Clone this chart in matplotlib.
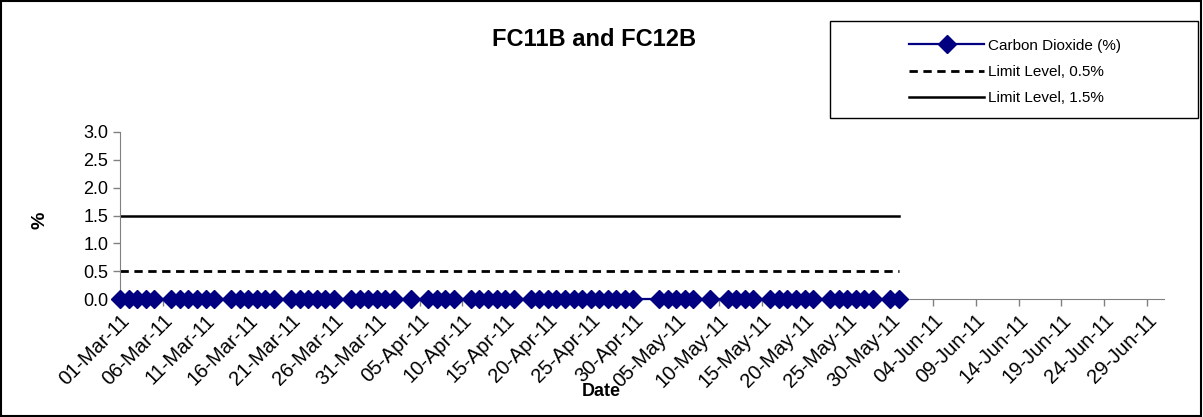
import pandas as pd
import matplotlib
matplotlib.use("Agg")
import matplotlib.pyplot as plt
import matplotlib.dates as mdates
from matplotlib.patches import Rectangle

plt.rcParams['font.family'] = ['Liberation Sans', 'DejaVu Sans']

# sample dates (days with a reading)
co2_dates = [
    '2011-03-01', '2011-03-02', '2011-03-03', '2011-03-04', '2011-03-05',
    '2011-03-07', '2011-03-08', '2011-03-09', '2011-03-10', '2011-03-11', '2011-03-12',
    '2011-03-14', '2011-03-15', '2011-03-16', '2011-03-17', '2011-03-18', '2011-03-19',
    '2011-03-21', '2011-03-22', '2011-03-23', '2011-03-24', '2011-03-25', '2011-03-26',
    '2011-03-28', '2011-03-29', '2011-03-30', '2011-03-31', '2011-04-01', '2011-04-02',
    '2011-04-04',
    '2011-04-06', '2011-04-07', '2011-04-08', '2011-04-09',
    '2011-04-11', '2011-04-12', '2011-04-13', '2011-04-14', '2011-04-15', '2011-04-16',
    '2011-04-18', '2011-04-19', '2011-04-20', '2011-04-21', '2011-04-22', '2011-04-23',
    '2011-04-24', '2011-04-25', '2011-04-26', '2011-04-27', '2011-04-28', '2011-04-29',
    '2011-04-30',
    '2011-05-03', '2011-05-04', '2011-05-05', '2011-05-06', '2011-05-07',
    '2011-05-09',
    '2011-05-11', '2011-05-12', '2011-05-13', '2011-05-14',
    '2011-05-16', '2011-05-17', '2011-05-18', '2011-05-19', '2011-05-20', '2011-05-21',
    '2011-05-23', '2011-05-24', '2011-05-25', '2011-05-26', '2011-05-27', '2011-05-28',
    '2011-05-30', '2011-05-31',
]
co2_values = [0.0] * len(co2_dates)

limit_dates = ['2011-03-01', '2011-05-31']
limit_low = [0.5, 0.5]
limit_high = [1.5, 1.5]

tick_start = '2011-03-01'
tick_end = '2011-06-29'
y_ticks = [0.0, 0.5, 1.0, 1.5, 2.0, 2.5, 3.0]

co2_dates = pd.to_datetime(co2_dates)
limit_dates = pd.to_datetime(limit_dates)
tick_dates = pd.date_range(tick_start, tick_end, freq='5D')

fig = plt.figure(figsize=(12.03, 4.17), dpi=100)
ax = fig.add_axes([120 / 1203, 118 / 417, 1044 / 1203, 167 / 417])

ax.plot(limit_dates, limit_low, color='black', linestyle=(0, (3, 2)), linewidth=2,
        label='Limit Level, 0.5%', zorder=2)
ax.plot(limit_dates, limit_high, color='black', linestyle='-', linewidth=1.8,
        label='Limit Level, 1.5%', zorder=2)
ax.plot(co2_dates, co2_values, color='#000080', marker='D', markersize=9,
        linewidth=1.6, label='Carbon Dioxide (%)', zorder=3, clip_on=False)

ax.set_xlim(pd.Timestamp('2011-03-01'), pd.Timestamp('2011-07-01'))
ax.set_ylim(0, 3.0)
ax.set_yticks(y_ticks)
ax.set_yticklabels([f"{v:.1f}" for v in y_ticks], fontsize=13)
ax.set_xticks(tick_dates)
ax.xaxis.set_major_formatter(mdates.DateFormatter('%d-%b-%y'))
plt.setp(ax.get_xticklabels(), rotation=45, ha='right', rotation_mode='anchor', fontsize=14.5)

for s in ['top', 'right']:
    ax.spines[s].set_visible(False)
ax.spines['left'].set_color('#808080')
ax.spines['bottom'].set_color('#808080')
ax.tick_params(axis='both', colors='#808080', labelcolor='black', length=5, width=1)

fig.text(594 / 1203, 1 - 40 / 417, 'FC11B and FC12B', fontsize=17, fontweight='bold',
         ha='center', va='center')
fig.text(40 / 1203, 1 - 220 / 417, '%', rotation=90, fontsize=14, fontweight='bold',
         ha='center', va='center')
fig.text(601 / 1203, 1 - 392 / 417, 'Date', fontsize=13, fontweight='bold',
         ha='center', va='center')

# legend box
fig.patches.append(Rectangle((830 / 1203, 1 - 118 / 417), 368 / 1203, 97 / 417,
                             transform=fig.transFigure, fill=False, edgecolor='black',
                             linewidth=1))
handles, labels = ax.get_legend_handles_labels()
order = [2, 0, 1]
fig.legend([handles[i] for i in order], [labels[i] for i in order],
           loc='center', bbox_to_anchor=(1015 / 1203, 1 - 72 / 417),
           frameon=False, fontsize=11, handlelength=4.9, handletextpad=0.25,
           labelspacing=0.8, markerfirst=True)

# chart border
fig.patches.append(Rectangle((0.001, 0.002), 0.997, 0.995, transform=fig.transFigure,
                             fill=False, edgecolor='black', linewidth=1.5))

fig.savefig('out.png', dpi=100)
